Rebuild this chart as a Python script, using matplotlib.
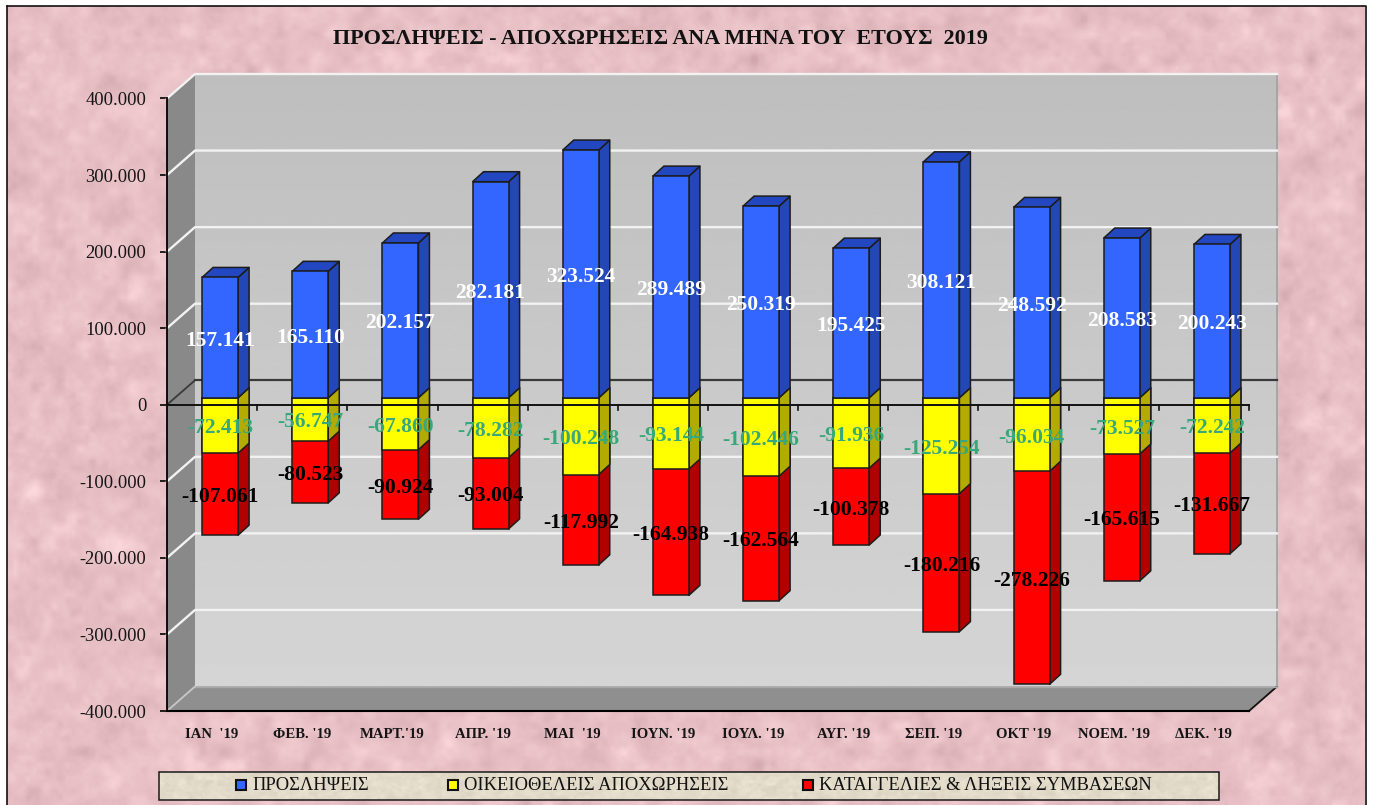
import numpy as np
import matplotlib
matplotlib.use('Agg')
import matplotlib.pyplot as plt
from matplotlib.patches import Polygon, Rectangle

W, H = 1373, 805

months = ["ΙΑΝ  '19", "ΦΕΒ. '19", "ΜΑΡΤ.'19", "ΑΠΡ. '19", "ΜΑΙ  '19", "ΙΟΥΝ. '19",
          "ΙΟΥΛ. '19", "ΑΥΓ. '19", "ΣΕΠ. '19", "ΟΚΤ '19", "ΝΟΕΜ. '19", "ΔΕΚ. '19"]
hires = [157141, 165110, 202157, 282181, 323524, 289489,
         250319, 195425, 308121, 248592, 208583, 200243]
voluntary = [-72413, -56747, -67860, -78282, -100248, -93144,
             -102446, -91936, -125254, -96034, -73527, -72242]
terminated = [-107061, -80523, -90924, -93004, -117992, -164938,
              -162564, -100378, -180216, -278226, -165615, -131667]
yticks = [-400000, -300000, -200000, -100000, 0, 100000, 200000, 300000, 400000]
legend_labels = ['ΠΡΟΣΛΗΨΕΙΣ', 'ΟΙΚΕΙΟΘΕΛΕΙΣ ΑΠΟΧΩΡΗΣΕΙΣ', 'ΚΑΤΑΓΓΕΛΙΕΣ & ΛΗΞΕΙΣ ΣΥΜΒΑΣΕΩΝ']
title = 'ΠΡΟΣΛΗΨΕΙΣ - ΑΠΟΧΩΡΗΣΕΙΣ ΑΝΑ ΜΗΝΑ ΤΟΥ  ΕΤΟΥΣ  2019'

plt.rcParams['font.family'] = ['Liberation Serif', 'DejaVu Serif']


def dots(v):
    return f'{v:,}'.replace(',', '.')


def texture(rng, n, base, amp):
    # mottled paper, only a backdrop
    out = np.zeros((n[0] * 8, n[1] * 8))
    for s, w in [(8, 0.7), (4, 0.7), (2, 0.45), (1, 0.25)]:
        c = rng.normal(size=(n[0] * 8 // s + 2, n[1] * 8 // s + 2))
        yi = np.linspace(0, c.shape[0] - 1.001, out.shape[0])
        xi = np.linspace(0, c.shape[1] - 1.001, out.shape[1])
        y0, x0 = yi.astype(int), xi.astype(int)
        fy, fx = (yi - y0)[:, None], (xi - x0)[None, :]
        fy, fx = fy * fy * (3 - 2 * fy), fx * fx * (3 - 2 * fx)
        c00, c01 = c[np.ix_(y0, x0)], c[np.ix_(y0, x0 + 1)]
        c10, c11 = c[np.ix_(y0 + 1, x0)], c[np.ix_(y0 + 1, x0 + 1)]
        out += w * ((c00 * (1 - fx) + c01 * fx) * (1 - fy) + (c10 * (1 - fx) + c11 * fx) * fy)
    out /= out.std()
    img = np.array(base)[None, None, :] + amp * out[:, :, None] * np.array([1.0, 1.15, 1.1])
    return np.clip(img, 0, 1)


fig = plt.figure(figsize=(W / 100, H / 100), dpi=100, facecolor='white')
rng = np.random.default_rng(4)

# background
bg = fig.add_axes([0, 0, 1, 1], zorder=0)
bg.axis('off')
bg.imshow(texture(rng, (30, 52), (0.905, 0.75, 0.77), 0.019), extent=[7, 1365, 806, 7],
          aspect='auto', interpolation='bilinear', zorder=0)
bg.set_xlim(0, W)
bg.set_ylim(H, 0)
bg.plot([6.5, 6.5], [H, 6.5], color='#111111', lw=1.2)
bg.plot([6.5, 1365.5, 1365.5], [6.5, 6.5, H], color='#111111', lw=1.2)

# main axes is the front plane of the 3d box
left, right, top, bottom = 167, 1249, 98.5, 711
ax = fig.add_axes([left / W, 1 - bottom / H, (right - left) / W, (bottom - top) / H], zorder=1)
ax.patch.set_alpha(0)
px_x = 12 / (right - left)
px_y = 800000 / (bottom - top)
ddx, ddy = 28 * px_x, 24.5 * px_y

# back wall with vertical gradient
grad = np.linspace(0.745, 0.835, 256)[:, None]
ax.imshow(grad, cmap='gray', vmin=0, vmax=1, aspect='auto', zorder=0,
          extent=[ddx, 12 + ddx, -400000 + ddy, 400000 + ddy], origin='upper', clip_on=False)
ax.set_xlim(0, 12)
ax.set_ylim(-400000, 400000)

# side wall and floor
ax.add_patch(Polygon([(0, -400000), (ddx, -400000 + ddy), (ddx, 400000 + ddy), (0, 400000)],
                     fc='#898989', ec='none', zorder=1, clip_on=False))
ax.add_patch(Polygon([(0, -400000), (12, -400000), (12 + ddx, -400000 + ddy), (ddx, -400000 + ddy)],
                     fc='#8f8f8f', ec='none', zorder=1, clip_on=False))
ax.plot([12, 12 + ddx], [-400000, -400000 + ddy], color='#111111', lw=1.3, zorder=2, clip_on=False)
ax.plot([12 + ddx] * 2, [-400000 + ddy, 400000 + ddy], color='#a0a0a0', lw=1.2, zorder=2, clip_on=False)
ax.plot([ddx, 12 + ddx], [-400000 + ddy] * 2, color='#a8a8a8', lw=1.0, zorder=2, clip_on=False)

# gridlines
for v in yticks:
    if v == -400000:
        ax.plot([0, ddx], [v, v + ddy], color='#c8c8c8', lw=1.3, zorder=2, clip_on=False)
        continue
    if v == 0:
        ax.plot([0, ddx], [v, v + ddy], color='#3a3a3a', lw=1.3, zorder=2, clip_on=False)
        ax.plot([ddx, 12 + ddx], [v + ddy] * 2, color='#3a3a3a', lw=1.6, zorder=2, clip_on=False)
        continue
    ax.plot([0, ddx, 12 + ddx], [v, v + ddy, v + ddy], color='#f2f2f2', lw=1.7, zorder=2, clip_on=False)

# bars
off_x, off_y = 8 * px_x, 7 * px_y
bw = 36 * px_x
sx, sy = 11 * px_x, 10 * px_y


def bar3d(x0, y0, y1, front, side, cap=None):
    lo, hi = min(y0, y1), max(y0, y1)
    z = 3 + x0 / 100
    ax.add_patch(Polygon([(x0 + bw, lo), (x0 + bw + sx, lo + sy), (x0 + bw + sx, hi + sy), (x0 + bw, hi)],
                         fc=side, ec='#1c1c1c', lw=1.1, zorder=z, joinstyle='round'))
    if cap is not None:
        ax.add_patch(Polygon([(x0, hi), (x0 + sx, hi + sy), (x0 + bw + sx, hi + sy), (x0 + bw, hi)],
                             fc=cap, ec='#1c1c1c', lw=1.1, zorder=z))
    ax.add_patch(Rectangle((x0, lo), bw, hi - lo, fc=front, ec='#1c1c1c', lw=1.1, zorder=z))


centers = np.arange(12) + 0.5
for i, c in enumerate(centers):
    x0 = c + off_x - bw / 2
    h, v, t = hires[i], voluntary[i], terminated[i]
    bar3d(x0, off_y, off_y + t + v, '#ff0000', '#b00000')
    bar3d(x0, off_y, off_y + v, '#ffff00', '#b3ab00')
    bar3d(x0, off_y, off_y + h, '#3366ff', '#2347b5', cap='#2347c0')

# zero line with ticks
ax.plot([0, 12], [0, 0], color='#111111', lw=1.4, zorder=6, clip_on=False)
for k in range(13):
    ax.plot([k, k], [0, -5.5 * px_y], color='#111111', lw=1.2, zorder=6, clip_on=False)

# value labels
lab_y = off_y - 3 * px_y
for i, c in enumerate(centers):
    xc = c + off_x
    h, v, t = hires[i], voluntary[i], terminated[i]
    ax.text(xc, lab_y + h / 2, dots(h), color='white', fontsize=15.5, fontweight='bold',
            ha='center', va='center', zorder=10)
    ax.text(xc, lab_y + v / 2, dots(v), color='#38a87a', fontsize=15.5, fontweight='bold',
            ha='center', va='center', zorder=10)
    ax.text(xc, lab_y + v + t / 2, dots(t), color='black', fontsize=15.5, fontweight='bold',
            ha='center', va='center', zorder=10)

# axes furniture
for s in ['top', 'right']:
    ax.spines[s].set_visible(False)
ax.spines['left'].set_linewidth(1.3)
ax.spines['bottom'].set_linewidth(1.5)
ax.spines['left'].set_zorder(5)
ax.spines['bottom'].set_zorder(5)
ax.set_yticks(yticks)
ax.set_yticklabels([dots(v) for v in yticks], fontsize=13.3, color='#151515')
ax.tick_params(axis='y', length=5, width=1.2, pad=10)
ax.set_xticks(centers)
ax.set_xticklabels(months, fontsize=10.6, fontweight='bold', color='#151515')
ax.tick_params(axis='x', length=0, pad=12)

# title
bg.text(660, 38.5, title, fontsize=15.9, fontweight='bold', ha='center', va='center', color='#111111')

# legend box
bg.imshow(texture(rng, (4, 132), (0.89, 0.86, 0.79), 0.012), extent=[158.5, 1218.5, 799.5, 771.5],
          aspect='auto', interpolation='bilinear', zorder=1)
bg.set_xlim(0, W)
bg.set_ylim(H, 0)
bg.add_patch(Rectangle((158.5, 771.5), 1060, 28, fc='none', ec='#1a1a1a', lw=1.1, zorder=2))
for lx, tx, col, lab in zip([236, 448, 803], [252, 464, 819],
                            ['#3366ff', '#ffff00', '#ff0000'], legend_labels):
    bg.add_patch(Rectangle((lx, 780), 10, 10, fc=col, ec='#111111', lw=1.5, zorder=3))
    bg.text(tx, 785, lab, fontsize=13.3, ha='left', va='center', color='#111111', zorder=3)

fig.savefig('out.png', dpi=100)
